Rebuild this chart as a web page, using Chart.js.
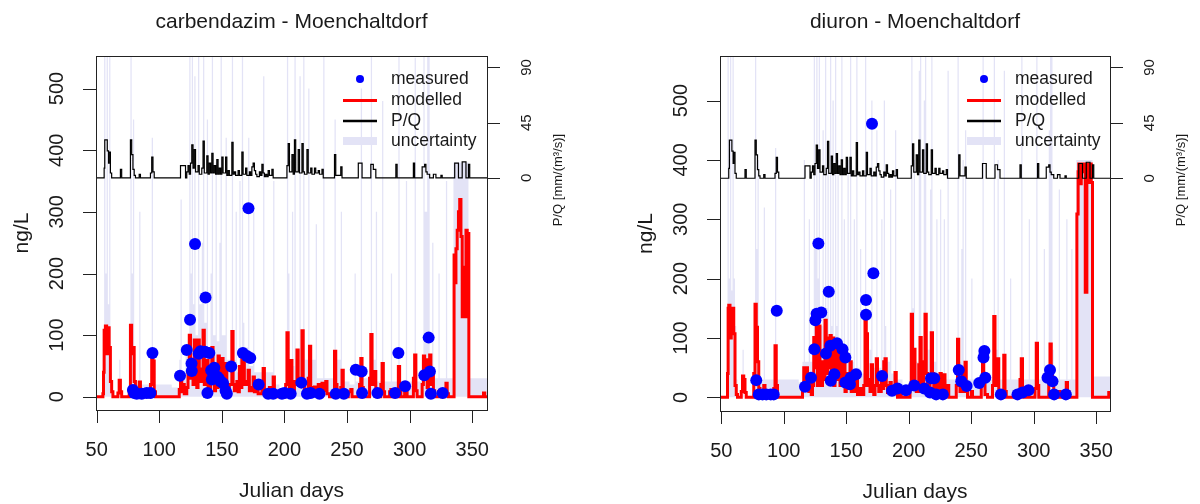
<!DOCTYPE html>
<html>
<head>
<meta charset="utf-8">
<script src="https://cdn.jsdelivr.net/npm/chart.js@4.4.1/dist/chart.umd.min.js"></script>
<style>
  html, body { margin: 0; padding: 0; background: #fff; }
  #wrap { display: flex; width: 1200px; height: 504px; }
  canvas { display: block; }
</style>
</head>
<body>
<div id="wrap">
  <canvas id="c1" width="600" height="504"></canvas>
  <canvas id="c2" width="600" height="504"></canvas>
</div>
<script>
// tick labels
const xTicks = [50, 100, 150, 200, 250, 300, 350];
const yTicks = [0, 100, 200, 300, 400, 500];
const pqTicks = [0, 45, 90];

// P/Q (same catchment in both panels) [day, value], step function
const pq = [[49,0],[56,8],[56.5,31],[58.5,22],[59.5,12],[60,21],[61,4],[62,0],[69,7],[70,0],[77,31],[78,19],[79,7],[80,2],[81,0],[84,3],[85,0],
  [93,4],[94,17],[95,5],[96,0],[117,10],[121,0],[122,5],[123,10],[124,3],[125,12],[126,27],[127,8],[128,23],[129,5],[131,10],[132,3],
  [134,8],[135,30],[136,4],[138,18],[139,3],[140,12],[141,4],[142,20],[143,4],[144,10],[145,3],[146,15],[147,3],[148,8],[149,3],[150,17],
  [151,4],[153,17],[154,2],[155,6],[156,2],[158,29],[159,3],[160,5],[161,2],[163,6],[164,2],[166,21],[167,3],[169,8],[170,2],[172,5],
  [173,2],[174,9],[175,12],[176,6],[177,3],[178,1],[180,5],[181,2],[182,11],[183,4],[184,1],[185,3],[186,1],[187,6],[188,2],[190,7],[191,0],
  [202,10],[203,28],[204,5],[206,19],[207,3],[208,31],[209,5],[211,23],[212,4],[214,28],[215,5],[216,3],[218,23],[219,4],[221,8],[222,3],
  [224,8],[225,4],[227,6],[228,3],[230,7],[231,0],[240,19],[241,2],[245,9],[246,0],[259,12],[262,0],[269,11],[271,7],[273,0],[289,11],[290,0],
  [303,12],[304,0],[310,9],[312,11],[313,5],[314,3],[316,0],[319,3],[321,0],[325,2],[326,0],[336,12],[339,0],[342,13],[345,0],[347,11],[348,0],[362,0]];

// carbendazim
const modelledC = [[49,0],[55,5],[55.5,40],[56,108],[57,115],[58,70],[59,112],[60,80],[61,25],[62,8],[63,0],
  [67,6],[68,27],[69,8],[70,0],[76,10],[77,116],[78,70],[79,80],[80,25],[81,8],[82,0],[84,24],[85,6],[86,0],
  [93,20],[94,65],[95,58],[96,8],[97,0],
  [116,12],[117,30],[118,8],[119,20],[120,5],[122,15],[123,40],[124,100],[125,30],[126,60],[127,20],[128,92],[129,35],[130,15],
  [131,92],[132,25],[134,45],[135,108],[136,20],[137,40],[138,59],[139,15],[141,30],[142,80],[143,25],[144,10],[145,40],[146,15],
  [147,66],[148,20],[150,62],[151,15],[152,30],[153,54],[154,10],[156,20],[158,106],[159,20],[160,10],[162,25],[163,8],[164,49],
  [165,15],[166,65],[167,62],[168,20],[170,25],[171,43],[172,10],[174,15],[175,32],[176,8],[178,15],[179,5],[182,20],[183,46],
  [184,10],[186,8],[188,15],[190,10],[191,32],[192,5],[194,0],[196,8],[197,0],
  [201,20],[202,104],[203,30],[204,15],[205,59],[206,10],[208,25],[209,20],[210,76],[211,20],[213,30],[214,107],[215,25],[216,10],
  [219,30],[220,82],[221,15],[222,5],[224,16],[225,10],[227,20],[228,8],[230,22],[231,10],[233,25],[234,5],[236,0],
  [240,74],[241,20],[242,5],[245,15],[246,43],[247,8],[249,0],[251,8],[253,12],[254,0],[260,20],[261,62],[262,15],[263,0],
  [268,30],[269,101],[270,20],[272,41],[273,10],[274,0],[277,20],[278,54],[279,8],[280,0],[284,8],[285,12],[286,0],
  [291,49],[292,10],[293,0],[296,10],[297,16],[298,0],[303,30],[304,68],[305,10],[306,0],
  [310,20],[311,66],[312,30],[313,60],[314,15],[315,40],[316,68],[317,20],[318,35],[319,10],[320,0],[323,8],[324,10],[325,0],
  [328,10],[329,22],[330,5],[331,0],[335,0],[335.5,230],[336.5,185],[337,240],[338,270],[339,300],[340,320],[341,260],[342,130],
  [343,210],[344,130],[345,270],[346,265],[347.3,0],[359,6],[360,0],[362,0]];

const uncertaintyC = [[49,0],[55,60],[56,600],[57,200],[58,600],[59,150],[60,600],[61,40],[62,0],[68,60],[69,0],[76,40],[77,600],[78,200],[79,450],[80,20],[84,300],[85,20],
  [93,20],[94,420],[95,20],[110,15],[116,60],[117,320],[118,40],[121,80],[124,600],[125,200],[126,600],[127,150],[128,520],[129,100],
  [131,600],[132,150],[134,250],[135,600],[136,120],[138,450],[139,80],[141,200],[142,600],[143,100],[145,380],[146,90],[148,250],
  [149,600],[150,100],[153,420],[154,60],[158,600],[159,60],[161,300],[162,40],[164,350],[165,60],[166,600],[167,120],[168,80],[171,420],[172,50],
  [175,300],[176,40],[183,520],[184,40],[191,350],[192,20],[196,10],[202,600],[203,200],[204,60],[206,300],[207,50],[208,600],[209,60],
  [212,520],[213,80],[215,600],[216,60],[219,500],[220,60],[225,280],[226,30],[231,600],[232,30],[240,450],[241,60],[245,300],[246,25],
  [252,20],[256,200],[257,25],[261,500],[262,30],[269,600],[270,60],[273,300],[274,25],[278,480],[279,25],[285,200],[286,25],
  [291,600],[292,25],[297,350],[298,25],[304,550],[305,25],[311,600],[312,300],[314,600],[316,60],[318,250],[319,30],[323,200],[324,30],
  [329,350],[330,30],[335,380],[347,30],[362,30]];

const measuredC = [[79,11],[80,6],[82,5],[86,5],[90,6],[93,6],[94.6,71],[116.6,34],[122,76],[124.6,125],[125.8,54],[126,42],
  [128.6,248],[131.5,70],[133,74],[136.6,73],[137,161],[138.5,6],[140,71],[141.5,43],[142,28],[144,47],[146,33],[147.5,30],[149,25],
  [151,22],[153,10],[154,5],[157.5,49],[166.8,71],[170,66],[171.3,306],[172.7,63],[179.4,20],[187,5],[191,5],[198,5],[200,6],[205,5],
  [213.5,23],[218,5],[221,6],[228,5],[241,5],[247.5,5],[257,44],[261.7,41],[262,6],[274.3,6],[288.4,6],[291,71],[296.4,17],
  [311.7,35],[315.2,96],[316.2,41],[317,5],[326.4,6]];

// diuron
const modelledD = [[49,0],[55,40],[55.5,150],[56,155],[57,100],[58,148],[59,150],[60,107],[61,20],[62,5],[63,0],
  [66,10],[67,36],[68,30],[69,8],[70,0],[76,40],[77,157],[78,118],[79,60],[80,15],[81,0],[84,20],[85,5],[86,0],
  [92,15],[93,87],[94,20],[95,0],
  [115,20],[116,50],[117,30],[118,50],[119,20],[120,10],[121,30],[122,5],[123,20],[124,101],[125,50],[126,130],[127,20],[128,120],
  [129,40],[130,20],[131,60],[132,30],[133,130],[134,40],[135,100],[136,50],[137,104],[138,40],[139,100],[140,20],[141,85],[142,30],
  [143,80],[144,40],[145,20],[146,70],[147,20],[148,60],[149,10],[150,25],[151,40],[152,15],[153,60],[154,10],[156,25],[157,10],
  [158,35],[159,5],[161,15],[162,5],[164,20],[165,141],[166,107],[167,20],[168,30],[169,10],[170,55],[171,15],[172,5],[173,20],
  [174,65],[175,20],[176,10],[178,30],[179,15],[180,60],[181,65],[182,20],[183,8],[185,25],[186,5],[188,10],[189,42],[190,10],[191,0],
  [193,8],[194,0],
  [201,20],[202,140],[203,30],[204,81],[205,20],[206,10],[208,55],[209,101],[210,20],[211,10],[212,60],[213,140],[214,40],[215,20],
  [216,10],[217,30],[218,109],[219,40],[220,10],[222,33],[223,10],[225,40],[226,15],[228,38],[229,10],[231,20],[232,0],
  [238,20],[239,98],[240,30],[241,10],[242,20],[243,40],[244,10],[245,59],[246,10],[247,0],[250,10],[251,0],
  [258,20],[259,81],[260,30],[261,5],[263,0],[267,20],[268,136],[269,40],[270,20],[271,65],[272,10],[273,0],
  [276,71],[277,10],[278,0],[289,30],[290,65],[291,10],[292,0],[301,15],[302,91],[303,20],[304,0],
  [312,40],[313,90],[314,50],[315,20],[316,8],[317,0],[320,10],[321,0],[326,25],[327,10],[328,0],
  [334.5,309],[335.5,380],[336,393],[337,360],[338,393],[339,380],[340,393],[341.2,177],[342.5,393],[344,362],[345,393],[346,362],
  [347,0],[360,8],[361,0],[362,0]];

const uncertaintyD = [[49,0],[54,30],[55,600],[56,200],[57,600],[58,180],[59,600],[60,200],[61,120],[62,30],[63,0],[67,80],[68,0],[76,60],[77,600],[78,250],[79,400],[80,30],[84,320],[85,30],
  [92,30],[93,420],[94,30],[112,25],[115,60],[116,400],[117,60],[120,300],[121,60],[124,600],[125,250],[126,600],[127,200],[128,600],
  [129,120],[131,450],[132,120],[133,600],[134,150],[135,420],[136,100],[137,600],[138,120],[139,500],[140,100],[141,600],[142,120],
  [143,400],[144,80],[146,600],[147,80],[148,300],[149,60],[151,400],[152,50],[153,600],[154,60],[156,300],[157,40],[158,600],[159,50],
  [161,250],[162,40],[165,600],[166,150],[167,80],[170,500],[171,50],[174,450],[175,50],[178,300],[179,40],[180,500],[181,120],[182,60],[185,350],[186,40],
  [189,450],[190,30],[195,20],[202,600],[203,150],[204,400],[205,60],[208,550],[209,600],[210,60],[212,500],[213,600],[214,80],
  [217,350],[218,600],[219,60],[222,300],[223,40],[225,350],[226,40],[228,300],[229,30],[231,550],[232,30],[239,600],[240,60],
  [242,250],[243,400],[244,40],[245,450],[246,30],[250,200],[251,30],[259,600],[260,60],[261,30],[268,600],[269,80],[271,400],[272,30],
  [276,550],[277,30],[281,200],[282,30],[290,600],[291,30],[296,300],[297,30],[302,600],[303,30],[308,250],[309,30],[312,450],[313,600],
  [315,80],[316,30],[320,350],[321,30],[326,300],[327,30],[330,250],[331,30],[334,400],[347,35],[362,35]];

const measuredD = [[78,29],[80,5],[83,5],[86,5],[89.6,5],[92,5],[94.4,146],[117,18],[121.8,33],[124.5,81],[125.3,130],[126.3,141],
  [127.7,259],[130,143],[133.8,74],[136,178],[137.3,87],[137.6,28],[140.5,39],[142.6,91],[147,81],[149.3,67],[149.3,25],[153,22],
  [153.5,33],[157.8,39],[165.8,164],[165.8,139],[170.6,461],[171.7,209],[178.6,36],[186.6,11],[191,15],[197.8,12],[204.4,20],
  [212.4,15],[217,8],[217.8,32],[220.4,32],[221.9,5],[227.3,5],[240,46],[242,27],[246.3,19],[256.4,24],[259.8,67],[260.5,78],
  [261.2,33],[273.7,5],[287,5],[291,8],[295.8,12],[311,33],[313,46],[315,27],[316.3,5],[325.7,5]];

const FONT = '"Liberation Sans", Arial, Helvetica, sans-serif';
const LAVENDER = '#E3E3F6';
const toXY = arr => arr.map(p => ({ x: p[0], y: p[1] }));

// draws the R-style box, ticks, rotated labels, titles and legend
const rFrame = {
  id: 'rFrame',
  afterDraw(chart, args, o) {
    const { ctx, chartArea: a } = chart;
    const sx = chart.scales.x, sy = chart.scales.y, s2 = chart.scales.y2;
    ctx.save();
    ctx.strokeStyle = '#222';
    ctx.lineWidth = 1;
    ctx.strokeRect(Math.round(a.left) + 0.5, Math.round(a.top) + 0.5, Math.round(a.right - a.left), Math.round(a.bottom - a.top));

    ctx.beginPath();
    xTicks.forEach(v => {
      const px = Math.round(sx.getPixelForValue(v)) + 0.5;
      ctx.moveTo(px, a.bottom); ctx.lineTo(px, a.bottom + 13);
    });
    yTicks.forEach(v => {
      const py = Math.round(sy.getPixelForValue(v)) + 0.5;
      ctx.moveTo(a.left - 13, py); ctx.lineTo(a.left, py);
    });
    pqTicks.forEach(v => {
      const py = Math.round(s2.getPixelForValue(v)) + 0.5;
      ctx.moveTo(a.right, py); ctx.lineTo(a.right + 13, py);
    });
    ctx.stroke();

    ctx.fillStyle = '#1a1a1a';
    ctx.textAlign = 'center';
    ctx.textBaseline = 'middle';
    ctx.font = '20px ' + FONT;
    xTicks.forEach(v => ctx.fillText(String(v), sx.getPixelForValue(v), a.bottom + 40));

    const rotText = (txt, x, y) => {
      ctx.save(); ctx.translate(x, y); ctx.rotate(-Math.PI / 2); ctx.fillText(txt, 0, 0); ctx.restore();
    };
    yTicks.forEach(v => rotText(String(v), a.left - 39, sy.getPixelForValue(v)));
    ctx.font = '15px ' + FONT;
    pqTicks.forEach(v => rotText(String(v), a.right + 40, s2.getPixelForValue(v)));
    ctx.font = '13px ' + FONT;
    rotText('P/Q [mm/(m³/s)]', a.right + 71, 180);

    ctx.font = '21px ' + FONT;
    ctx.fillText(o.title, (a.left + a.right) / 2, 22);
    ctx.fillText('Julian days', (a.left + a.right) / 2, a.bottom + 81);
    rotText('ng/L', a.left - 74, (a.top + a.bottom) / 2);

    // legend
    const lx = o.legendX, tx = lx + 31;
    ctx.fillStyle = '#0000FF';
    ctx.beginPath(); ctx.arc(lx, 79, 4, 0, Math.PI * 2); ctx.fill();
    const leg = (y, color, w) => {
      ctx.strokeStyle = color; ctx.lineWidth = w;
      ctx.beginPath(); ctx.moveTo(lx - 17, y); ctx.lineTo(lx + 17, y); ctx.stroke();
    };
    leg(100.5, '#FF0000', 3);
    leg(121, '#000000', 2.5);
    leg(141, LAVENDER, 8);
    ctx.fillStyle = '#1a1a1a';
    ctx.textAlign = 'left';
    ctx.font = '17.5px ' + FONT;
    ['measured', 'modelled', 'P/Q', 'uncertainty'].forEach((t, i) => ctx.fillText(t, tx, [79, 100.5, 121, 141][i]));
    ctx.restore();
  }
};

function makeChart(id, cfg) {
  return new Chart(document.getElementById(id), {
    type: 'line',
    data: {
      datasets: [
        { label: 'measured', data: toXY(cfg.measured), showLine: false, pointRadius: 6, pointBackgroundColor: '#0000FF',
          pointBorderWidth: 0, borderColor: '#0000FF', yAxisID: 'y', order: 0 },
        { label: 'P/Q', data: toXY(pq), stepped: true, borderColor: '#000000', borderWidth: 1.2, pointRadius: 0,
          yAxisID: 'y2', order: 1 },
        { label: 'modelled', data: toXY(cfg.modelled), stepped: true, borderColor: '#FF0000', borderWidth: 3,
          pointRadius: 0, yAxisID: 'y', order: 2 },
        { label: 'uncertainty', data: toXY(cfg.uncertainty), stepped: true, borderColor: 'rgba(0,0,0,0)', borderWidth: 0,
          fill: 'origin', backgroundColor: LAVENDER, pointRadius: 0, yAxisID: 'y', order: 3 }
      ]
    },
    options: {
      responsive: false,
      animation: false,
      devicePixelRatio: 1,
      events: [],
      layout: { padding: cfg.padding },
      scales: {
        x: { type: 'linear', display: false, min: cfg.xRange[0], max: cfg.xRange[1] },
        y: { display: false, min: cfg.yRange[0], max: cfg.yRange[1] },
        y2: { display: false, position: 'right', min: -189, max: 99.3 }
      },
      plugins: {
        legend: { display: false },
        tooltip: { enabled: false },
        rFrame: { title: cfg.title, legendX: cfg.legendX }
      }
    },
    plugins: [rFrame]
  });
}

makeChart('c1', {
  title: 'carbendazim - Moenchaltdorf',
  measured: measuredC, modelled: modelledC, uncertainty: uncertaintyC,
  xRange: [49.5, 361.8], yRange: [-21.4, 552.8],
  padding: { left: 96, right: 113, top: 56, bottom: 94 },
  legendX: 360
});

makeChart('c2', {
  title: 'diuron - Moenchaltdorf',
  measured: measuredD, modelled: modelledD, uncertainty: uncertaintyD,
  xRange: [49, 361], yRange: [-23, 575],
  padding: { left: 120, right: 90, top: 56, bottom: 93 },
  legendX: 384
});
</script>
</body>
</html>
